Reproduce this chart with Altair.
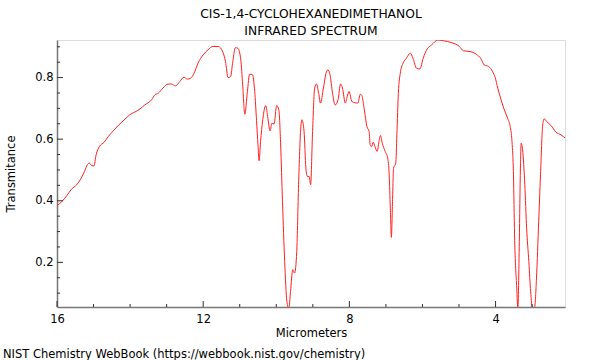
import altair as alt
import pandas as pd

title_lines = ["CIS-1,4-CYCLOHEXANEDIMETHANOL", "INFRARED SPECTRUM"]
source_note = "NIST Chemistry WebBook (https://webbook.nist.gov/chemistry)"

micrometers = [
    16.0, 15.87, 15.73, 15.60, 15.46, 15.34, 15.25, 15.17, 15.11, 15.05,
    14.99, 14.93, 14.84, 14.71, 14.60, 14.46, 14.31, 14.14, 14.01, 13.87,
    13.73, 13.60, 13.41, 13.32, 13.23, 13.10, 12.96, 12.87, 12.76, 12.64,
    12.53, 12.43, 12.34, 12.25, 12.14, 12.00, 11.87, 11.73, 11.59, 11.46,
    11.39, 11.32, 11.25, 11.19, 11.12, 11.05, 10.97, 10.92, 10.86, 10.79,
    10.73, 10.65, 10.59, 10.54, 10.50, 10.47, 10.43, 10.37, 10.29, 10.23,
    10.17, 10.12, 10.06, 9.99, 9.93, 9.88, 9.83, 9.77, 9.71, 9.66,
    9.61, 9.55, 9.50, 9.44, 9.39, 9.33, 9.30, 9.24, 9.19, 9.15,
    9.10, 9.06, 9.01, 8.95, 8.90, 8.84, 8.79, 8.71, 8.64, 8.59,
    8.53, 8.46, 8.39, 8.31, 8.24, 8.19, 8.11, 8.06, 8.01, 7.93,
    7.84, 7.77, 7.70, 7.66, 7.59, 7.52, 7.46, 7.43, 7.39, 7.35,
    7.30, 7.24, 7.19, 7.15, 7.10, 7.02, 6.95, 6.91, 6.88, 6.85,
    6.82, 6.79, 6.73, 6.70, 6.66, 6.60, 6.53, 6.44, 6.33, 6.26,
    6.16, 6.07, 5.98, 5.87, 5.75, 5.58, 5.40, 5.22, 4.99, 4.88,
    4.67, 4.53, 4.40, 4.31, 4.19, 4.08, 4.01, 3.94, 3.85, 3.76,
    3.67, 3.60, 3.55, 3.51, 3.48, 3.42, 3.39, 3.35, 3.32, 3.30,
    3.26, 3.20, 3.15, 3.09, 3.04, 2.99, 2.93, 2.88, 2.82, 2.77,
    2.71, 2.67, 2.60, 2.48, 2.35, 2.21, 2.09,
]
transmittance = [
    0.384, 0.397, 0.417, 0.438, 0.452, 0.473, 0.495, 0.517, 0.522, 0.514,
    0.513, 0.549, 0.576, 0.590, 0.608, 0.627, 0.646, 0.665, 0.679, 0.688,
    0.698, 0.711, 0.728, 0.744, 0.749, 0.766, 0.779, 0.779, 0.773, 0.787,
    0.801, 0.795, 0.798, 0.814, 0.847, 0.874, 0.890, 0.901, 0.901, 0.882,
    0.852, 0.800, 0.803, 0.852, 0.897, 0.895, 0.857, 0.776, 0.681, 0.755,
    0.811, 0.809, 0.755, 0.660, 0.580, 0.530, 0.592, 0.663, 0.709, 0.668,
    0.627, 0.652, 0.649, 0.709, 0.695, 0.581, 0.397, 0.203, 0.073, 0.050,
    0.105, 0.176, 0.165, 0.235, 0.452, 0.636, 0.663, 0.625, 0.506, 0.479,
    0.479, 0.452, 0.614, 0.766, 0.779, 0.749, 0.717, 0.766, 0.814, 0.825,
    0.809, 0.749, 0.711, 0.728, 0.779, 0.766, 0.717, 0.738, 0.755, 0.722,
    0.718, 0.717, 0.746, 0.742, 0.695, 0.641, 0.625, 0.581, 0.576, 0.590,
    0.576, 0.560, 0.592, 0.612, 0.587, 0.560, 0.538, 0.484, 0.376, 0.281,
    0.397, 0.506, 0.522, 0.614, 0.749, 0.819, 0.847, 0.863, 0.879, 0.863,
    0.830, 0.828, 0.863, 0.893, 0.906, 0.922, 0.919, 0.914, 0.901, 0.887,
    0.884, 0.876, 0.861, 0.841, 0.836, 0.819, 0.800, 0.766, 0.728, 0.695,
    0.668, 0.641, 0.592, 0.484, 0.289, 0.116, 0.050, 0.268, 0.506, 0.587,
    0.565, 0.452, 0.311, 0.203, 0.105, 0.050, 0.055, 0.149, 0.332, 0.484,
    0.646, 0.666, 0.657, 0.644, 0.623, 0.614, 0.603,
]
assert len(micrometers) == len(transmittance)

x_major = [16, 12, 8, 4]
x_minor = [15, 14, 13, 11, 10, 9, 7, 6, 5, 3]
y_major = [0.2, 0.4, 0.6, 0.8]
y_minor = [0.1, 0.15, 0.25, 0.3, 0.35, 0.45, 0.5, 0.55, 0.65, 0.7, 0.75, 0.85, 0.9]

FONT = "DejaVu Sans"
FS = 11.5
W, H = 508, 267

xscale = alt.Scale(domain=[2.1, 16], reverse=True, nice=False, zero=False)
yscale = alt.Scale(domain=[0.055, 0.922], nice=False, zero=False)
xaxis = alt.Axis(values=x_major, ticks=False, title="Micrometers", labelPadding=6,
                 titlePadding=3, grid=False, domainColor="#777", domainWidth=1.5,
                 labelFlush=False, labelFont=FONT, titleFont=FONT, labelFontSize=FS,
                 titleFontSize=FS, titleFontWeight="normal", labelColor="#000",
                 titleColor="#000")
yaxis = alt.Axis(values=y_major, format=".1f", ticks=False, title="Transmitance",
                 labelPadding=4, titlePadding=18, grid=False, domainColor="#777",
                 domainWidth=1.5, labelFlush=False, labelFont=FONT, titleFont=FONT,
                 labelFontSize=FS, titleFontSize=FS, titleFontWeight="normal",
                 labelColor="#000", titleColor="#000")

spec = pd.DataFrame({"um": micrometers, "T": transmittance})

line = alt.Chart(spec).mark_line(color="#ff2020", strokeWidth=1, clip=True,
                                 interpolate="monotone").encode(
    x=alt.X("um:Q", scale=xscale, axis=xaxis, sort=None),
    y=alt.Y("T:Q", scale=yscale, axis=yaxis),
    order=alt.Order("idx:Q"),
).transform_window(idx="row_number()")

def xticks(vals, length):
    return alt.Chart(pd.DataFrame({"um": vals})).mark_rule(color="#333", strokeWidth=1).encode(
        x=alt.X("um:Q", scale=xscale, axis=xaxis),
        y=alt.value(H), y2=alt.value(H - length))

def yticks(vals, length):
    return alt.Chart(pd.DataFrame({"T": vals})).mark_rule(color="#333", strokeWidth=1).encode(
        y=alt.Y("T:Q", scale=yscale, axis=yaxis),
        x=alt.value(0), x2=alt.value(length))

note = alt.Chart(pd.DataFrame({"t": [source_note]})).mark_text(
    align="left", baseline="alphabetic", font=FONT, fontSize=FS, color="#000").encode(
    x=alt.value(-54), y=alt.value(318), text="t:N")

chart = alt.layer(
    line, xticks(x_major, 6), xticks(x_minor, 3), yticks(y_major, 6), yticks(y_minor, 3), note
).properties(
    width=W, height=H,
    title=alt.TitleParams(text=title_lines, font=FONT, fontSize=12.3, fontWeight="normal",
                          anchor="middle", offset=3, lineHeight=16.5, color="#000"),
    autosize=alt.AutoSizeParams(type="none"),
    padding={"left": 57, "top": 40, "right": 35, "bottom": 53},
).configure_view(stroke="#999", strokeWidth=1.5).configure(background="white")

chart.save("out.html", embed_options={"renderer": "svg", "actions": False})
